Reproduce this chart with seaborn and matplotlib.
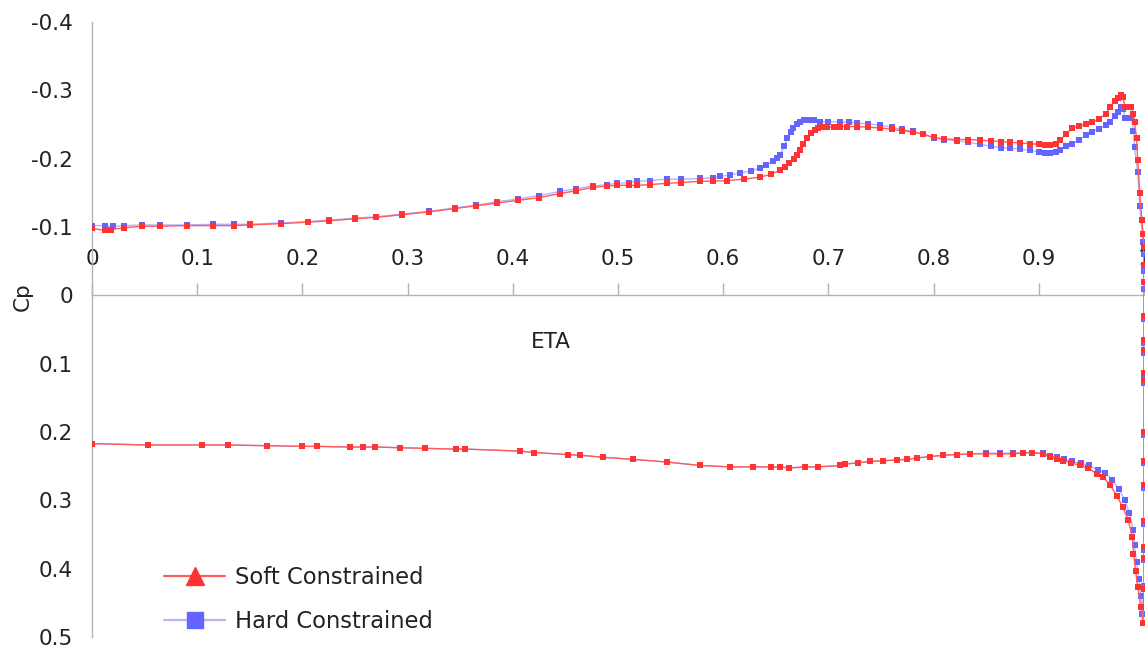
import matplotlib
matplotlib.use("Agg")
import matplotlib.pyplot as plt
from matplotlib.lines import Line2D
import numpy as np
import pandas as pd
import seaborn as sns

# ---- Soft constrained: upper surface (eta, Cp)
soft_upper_eta = [0.000, 0.012, 0.018, 0.030, 0.048, 0.065, 0.090, 0.115, 0.135, 0.150,
                  0.180, 0.205, 0.225, 0.250, 0.270, 0.295, 0.320, 0.345, 0.365, 0.385,
                  0.405, 0.425, 0.445, 0.460, 0.476, 0.490, 0.499, 0.510, 0.518, 0.530,
                  0.547, 0.560, 0.578, 0.590, 0.604, 0.620, 0.635, 0.645, 0.654, 0.659,
                  0.663, 0.667, 0.670, 0.673, 0.676, 0.680, 0.683, 0.687, 0.690, 0.695,
                  0.699, 0.705, 0.711, 0.718, 0.727, 0.738, 0.749, 0.760, 0.770, 0.780,
                  0.790, 0.800, 0.810, 0.822, 0.833, 0.844, 0.855, 0.864, 0.873, 0.882,
                  0.892, 0.900, 0.906, 0.911, 0.916, 0.920, 0.926, 0.932, 0.938, 0.945,
                  0.951, 0.957, 0.964, 0.968, 0.972, 0.975, 0.978, 0.980, 0.982, 0.985,
                  0.988, 0.990, 0.991, 0.993, 0.994, 0.996, 0.998, 0.999]
soft_upper_cp = [-0.098, -0.095, -0.096, -0.099, -0.101, -0.101, -0.102, -0.102, -0.102, -0.103,
                 -0.105, -0.107, -0.109, -0.112, -0.114, -0.118, -0.122, -0.127, -0.131, -0.135,
                 -0.139, -0.143, -0.149, -0.153, -0.158, -0.160, -0.161, -0.161, -0.161, -0.162,
                 -0.164, -0.165, -0.167, -0.167, -0.168, -0.170, -0.173, -0.177, -0.183, -0.188,
                 -0.193, -0.199, -0.205, -0.213, -0.222, -0.230, -0.237, -0.242, -0.245, -0.246,
                 -0.246, -0.247, -0.247, -0.247, -0.247, -0.246, -0.245, -0.243, -0.241, -0.239,
                 -0.236, -0.231, -0.229, -0.228, -0.228, -0.227, -0.226, -0.225, -0.224, -0.223,
                 -0.222, -0.221, -0.220, -0.220, -0.222, -0.227, -0.236, -0.245, -0.248, -0.250,
                 -0.253, -0.258, -0.266, -0.276, -0.285, -0.289, -0.293, -0.290, -0.275, -0.275,
                 -0.275, -0.265, -0.253, -0.230, -0.198, -0.150, -0.110, -0.090]

# ---- Soft constrained: wing tip section (eta = 1)
soft_tip_eta = [1.000, 1.000, 1.000, 1.000, 1.000, 1.000, 1.000, 1.000, 1.000, 1.000,
                1.000, 1.000, 1.000, 1.000, 1.000, 0.999]
soft_tip_cp = [-0.070, -0.045, -0.020, 0.030, 0.066, 0.080, 0.113, 0.124, 0.200, 0.242,
               0.278, 0.330, 0.369, 0.384, 0.430, 0.479]

# ---- Soft constrained: lower surface, from the tip back to the root
soft_lower_eta = [0.997, 0.994, 0.992, 0.990, 0.989, 0.985, 0.980, 0.974, 0.968, 0.961,
                  0.955, 0.947, 0.939, 0.931, 0.923, 0.917, 0.911, 0.904, 0.894, 0.885,
                  0.875, 0.863, 0.850, 0.835, 0.822, 0.809, 0.797, 0.784, 0.775, 0.765,
                  0.752, 0.740, 0.728, 0.716, 0.711, 0.690, 0.678, 0.663, 0.654, 0.645,
                  0.628, 0.606, 0.578, 0.547, 0.514, 0.486, 0.464, 0.452, 0.420, 0.407,
                  0.355, 0.346, 0.317, 0.293, 0.269, 0.258, 0.245, 0.214, 0.200, 0.166,
                  0.129, 0.105, 0.053, 0.000]
soft_lower_cp = [0.456, 0.427, 0.403, 0.378, 0.354, 0.329, 0.310, 0.293, 0.278, 0.266,
                 0.261, 0.253, 0.249, 0.245, 0.242, 0.239, 0.237, 0.232, 0.230, 0.231,
                 0.232, 0.232, 0.232, 0.232, 0.233, 0.234, 0.236, 0.238, 0.240, 0.241,
                 0.242, 0.243, 0.245, 0.247, 0.249, 0.251, 0.251, 0.253, 0.251, 0.251,
                 0.251, 0.251, 0.249, 0.244, 0.240, 0.237, 0.234, 0.233, 0.230, 0.228,
                 0.225, 0.225, 0.224, 0.223, 0.222, 0.222, 0.222, 0.221, 0.221, 0.220,
                 0.219, 0.219, 0.219, 0.217]

# ---- Hard constrained: upper surface
hard_upper_eta = [0.000, 0.012, 0.020, 0.030, 0.048, 0.065, 0.090, 0.115, 0.135, 0.150,
                  0.180, 0.205, 0.225, 0.250, 0.270, 0.295, 0.320, 0.345, 0.365, 0.385,
                  0.405, 0.425, 0.445, 0.460, 0.476, 0.490, 0.499, 0.510, 0.518, 0.530,
                  0.547, 0.560, 0.578, 0.590, 0.597, 0.606, 0.616, 0.626, 0.635, 0.641,
                  0.647, 0.651, 0.654, 0.658, 0.661, 0.664, 0.666, 0.670, 0.673, 0.677,
                  0.681, 0.686, 0.692, 0.700, 0.711, 0.720, 0.727, 0.738, 0.749, 0.760,
                  0.770, 0.780, 0.790, 0.800, 0.810, 0.822, 0.833, 0.844, 0.855, 0.864,
                  0.873, 0.882, 0.892, 0.900, 0.906, 0.911, 0.916, 0.920, 0.926, 0.932,
                  0.938, 0.945, 0.951, 0.957, 0.964, 0.968, 0.972, 0.975, 0.978, 0.980,
                  0.982, 0.985, 0.988, 0.990, 0.991, 0.994, 0.996, 0.999]
hard_upper_cp = [-0.102, -0.102, -0.101, -0.102, -0.103, -0.103, -0.103, -0.104, -0.104, -0.104,
                 -0.106, -0.108, -0.110, -0.113, -0.115, -0.119, -0.123, -0.128, -0.132, -0.137,
                 -0.141, -0.146, -0.152, -0.156, -0.160, -0.162, -0.164, -0.165, -0.167, -0.168,
                 -0.170, -0.170, -0.171, -0.172, -0.174, -0.176, -0.179, -0.182, -0.186, -0.190,
                 -0.196, -0.201, -0.206, -0.218, -0.230, -0.239, -0.245, -0.251, -0.254, -0.256,
                 -0.257, -0.256, -0.254, -0.254, -0.254, -0.253, -0.252, -0.251, -0.249, -0.246,
                 -0.243, -0.240, -0.236, -0.230, -0.228, -0.226, -0.224, -0.221, -0.218, -0.216,
                 -0.215, -0.214, -0.212, -0.210, -0.209, -0.208, -0.210, -0.213, -0.218, -0.222,
                 -0.228, -0.234, -0.239, -0.244, -0.249, -0.254, -0.263, -0.268, -0.275, -0.272,
                 -0.260, -0.260, -0.260, -0.240, -0.217, -0.180, -0.130, -0.078]

# ---- Hard constrained: wing tip section
hard_tip_eta = [1.000, 1.000, 1.000, 1.000, 1.000, 1.000, 1.000, 1.000, 1.000, 1.000,
                1.000, 1.000, 1.000, 1.000, 1.000, 0.998]
hard_tip_cp = [-0.060, -0.035, -0.010, 0.035, 0.070, 0.085, 0.118, 0.128, 0.205, 0.246,
               0.282, 0.334, 0.372, 0.388, 0.425, 0.466]

# ---- Hard constrained: lower surface
hard_lower_eta = [0.997, 0.995, 0.993, 0.991, 0.990, 0.986, 0.982, 0.976, 0.970, 0.963,
                  0.956, 0.948, 0.940, 0.932, 0.924, 0.917, 0.911, 0.904, 0.894, 0.885,
                  0.875, 0.863, 0.850, 0.835, 0.822, 0.809, 0.797, 0.784, 0.775, 0.765,
                  0.752, 0.740, 0.728, 0.716, 0.711, 0.690, 0.678, 0.663, 0.654, 0.645,
                  0.628, 0.606, 0.578, 0.547, 0.514, 0.486, 0.464, 0.452, 0.420, 0.407,
                  0.355, 0.346, 0.317, 0.293, 0.269, 0.258, 0.245, 0.214, 0.200, 0.166,
                  0.129, 0.105, 0.053, 0.000]
hard_lower_cp = [0.440, 0.415, 0.390, 0.366, 0.344, 0.319, 0.300, 0.284, 0.270, 0.260,
                 0.255, 0.249, 0.246, 0.243, 0.240, 0.237, 0.235, 0.231, 0.230, 0.230,
                 0.231, 0.231, 0.231, 0.232, 0.233, 0.234, 0.236, 0.238, 0.240, 0.241,
                 0.242, 0.243, 0.245, 0.247, 0.249, 0.251, 0.251, 0.252, 0.251, 0.251,
                 0.251, 0.251, 0.249, 0.244, 0.240, 0.237, 0.234, 0.233, 0.230, 0.228,
                 0.225, 0.225, 0.224, 0.223, 0.222, 0.222, 0.222, 0.221, 0.221, 0.220,
                 0.219, 0.219, 0.219, 0.217]

x_ticks = [0, 0.1, 0.2, 0.3, 0.4, 0.5, 0.6, 0.7, 0.8, 0.9, 1]
x_tick_labels = ["0", "0.1", "0.2", "0.3", "0.4", "0.5", "0.6", "0.7", "0.8", "0.9", "1"]
y_ticks = [-0.4, -0.3, -0.2, -0.1, 0, 0.1, 0.2, 0.3, 0.4, 0.5]
y_tick_labels = ["-0.4", "-0.3", "-0.2", "-0.1", "0", "0.1", "0.2", "0.3", "0.4", "0.5"]

RED = "#ff3333"
RED_LINE = "#ff5c5c"
BLUE = "#6464ff"
BLUE_LINE = "#b4b4ff"
AXIS_GREY = "#b3b3b3"
TEXT = "#222222"


def series_frame(upper_eta, upper_cp, tip_eta, tip_cp, lower_eta, lower_cp):
    # one continuous path: upper surface -> tip -> lower surface
    eta = list(upper_eta) + list(tip_eta) + list(lower_eta)
    cp = list(upper_cp) + list(tip_cp) + list(lower_cp)
    return pd.DataFrame({"eta": eta, "cp": cp, "order": np.arange(len(eta))})


soft = series_frame(soft_upper_eta, soft_upper_cp, soft_tip_eta, soft_tip_cp,
                    soft_lower_eta, soft_lower_cp)
hard = series_frame(hard_upper_eta, hard_upper_cp, hard_tip_eta, hard_tip_cp,
                    hard_lower_eta, hard_lower_cp)

sns.set_style("white")
plt.rcParams["font.family"] = ["DejaVu Sans"]

fig = plt.figure(figsize=(11.45, 6.49), dpi=100)
ax = fig.add_axes([92 / 1145, 12 / 649, 1052 / 1145, 615 / 649])

sns.lineplot(data=hard, x="eta", y="cp", sort=False, estimator=None, ax=ax,
             color=BLUE_LINE, linewidth=1.0, marker="s", markersize=4.4,
             markerfacecolor=BLUE, markeredgecolor=BLUE, markeredgewidth=0.0,
             legend=False, zorder=3)
sns.lineplot(data=soft, x="eta", y="cp", sort=False, estimator=None, ax=ax,
             color=RED_LINE, linewidth=1.0, marker="s", markersize=4.4,
             markerfacecolor=RED, markeredgecolor=RED, markeredgewidth=0.0,
             legend=False, zorder=4)

ax.set_xlim(0, 1)
ax.set_ylim(0.5, -0.4)

# axes: vertical spine at eta = 0, horizontal one through Cp = 0
for side in ("right", "bottom"):
    ax.spines[side].set_visible(False)
ax.spines["top"].set_position(("data", 0))
for side in ("left", "top"):
    ax.spines[side].set_color(AXIS_GREY)
    ax.spines[side].set_linewidth(1.0)

ax.xaxis.set_ticks_position("top")
ax.xaxis.set_label_position("bottom")
ax.set_xticks(x_ticks)
ax.set_xticklabels(x_tick_labels)
ax.set_yticks(y_ticks)
ax.set_yticklabels(y_tick_labels)
ax.tick_params(axis="x", direction="out", length=8.6, width=1.0, color=AXIS_GREY,
               pad=10.5, labelsize=15.5, labelcolor=TEXT)
ax.tick_params(axis="y", direction="out", length=8.6, width=1.0, color=AXIS_GREY,
               pad=5, labelsize=15.5, labelcolor=TEXT)
ax.grid(False)

ax.set_xlabel("ETA", fontsize=15.5, color=TEXT)
ax.xaxis.set_label_coords(0.436, 0.496)
ax.xaxis.label.set_verticalalignment("top")
ax.set_ylabel("Cp", fontsize=15.5, color=TEXT)
ax.yaxis.set_label_coords(-0.056, 0.553)

handles = [
    Line2D([], [], color=RED_LINE, linewidth=1.6, marker="^", markersize=13,
           markerfacecolor=RED, markeredgecolor=RED),
    Line2D([], [], color=BLUE_LINE, linewidth=1.6, marker="s", markersize=11.5,
           markerfacecolor=BLUE, markeredgecolor=BLUE),
]
leg = ax.legend(handles, ["Soft Constrained", "Hard Constrained"], loc="lower left",
                bbox_to_anchor=(0.0684, 0.006), borderaxespad=0, borderpad=0,
                frameon=False, fontsize=16.3, handlelength=2.7, handletextpad=0.42,
                labelspacing=0.95, labelcolor=TEXT)

fig.savefig("out.png", dpi=100, facecolor="white")
